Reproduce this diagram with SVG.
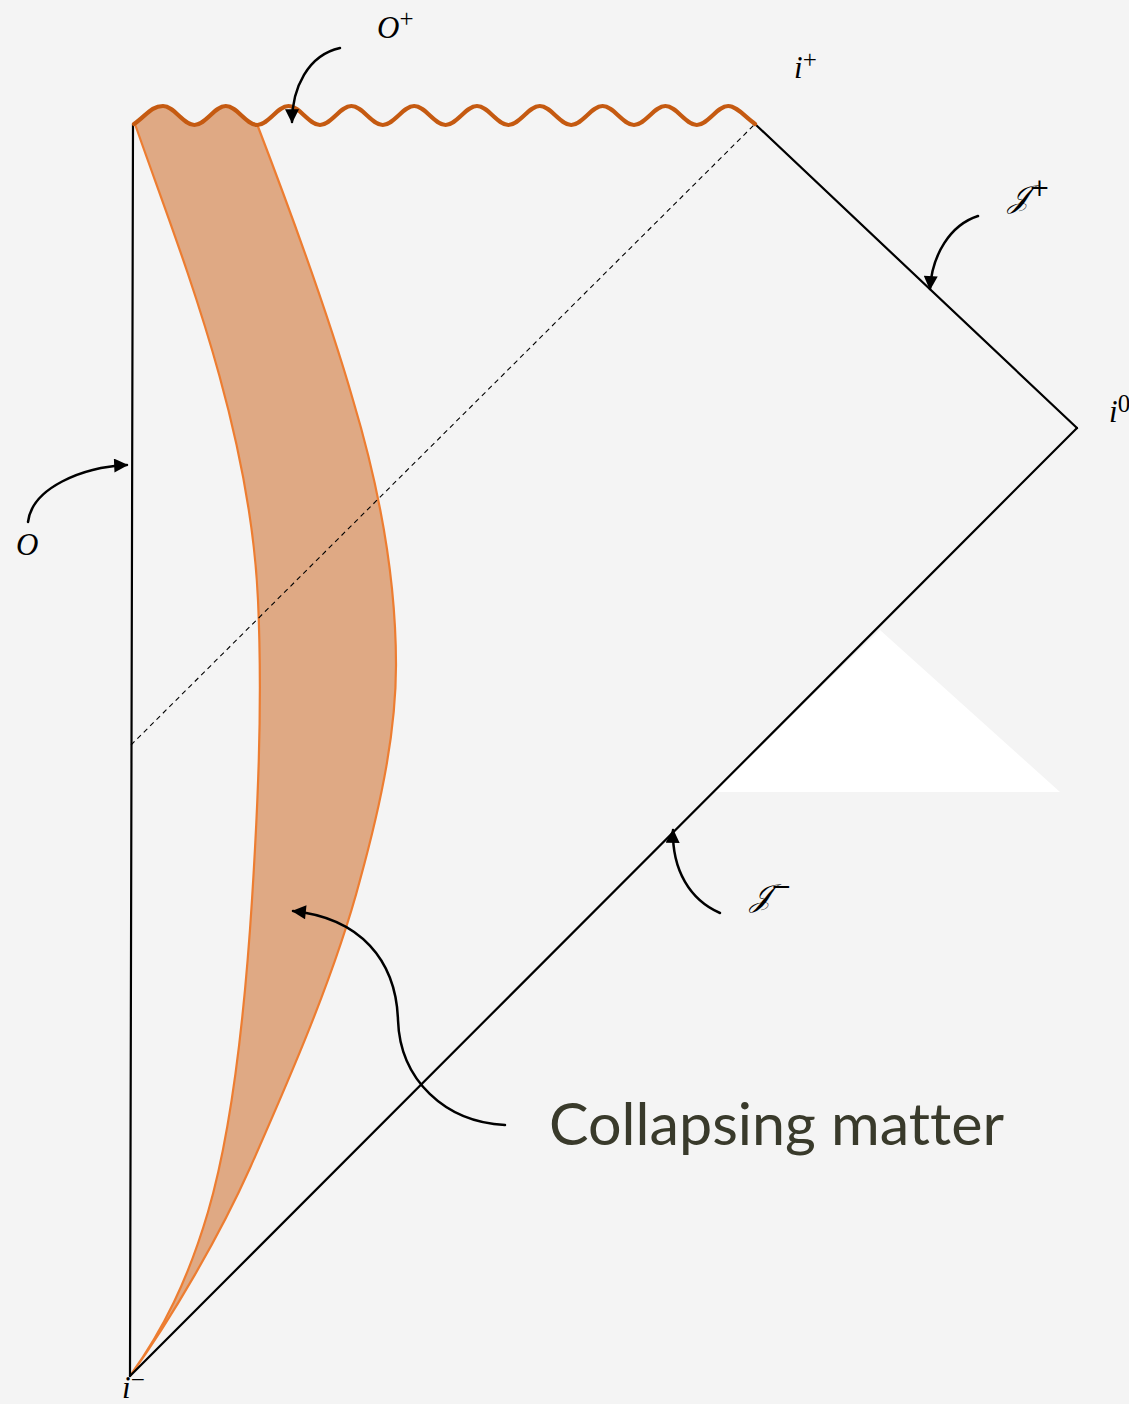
<svg xmlns="http://www.w3.org/2000/svg" width="1129" height="1404" viewBox="0 0 1129 1404">
<style>
.bg{fill:#f4f4f4}
.edge{fill:none;stroke:#000;stroke-width:2.2;stroke-linecap:round}
.dash{fill:none;stroke:#000;stroke-width:1.1;stroke-dasharray:5 4}
.arrow{fill:none;stroke:#000;stroke-width:2.5;stroke-linecap:round}
.lbl{font-family:"Liberation Serif",serif;font-style:italic;font-size:31px;fill:#000}
.sup{font-style:normal;font-size:25px}
.cal{font-family:"DejaVu Serif","Liberation Serif",serif;font-style:italic;font-size:31px;fill:#000}
.big{font-family:Lato,"Open Sans",sans-serif;font-size:58px;fill:#393a2b;font-variant-ligatures:none}
</style>
<defs>
<marker id="ah" viewBox="0 0 12 12" refX="11" refY="6" markerWidth="15" markerHeight="14" markerUnits="userSpaceOnUse" orient="auto">
<path d="M0,0 L12,6 L0,12 Z" fill="#000"/>
</marker>
</defs>
<rect class="bg" x="0" y="0" width="1129" height="1404"/>
<polygon points="880,630 1060,792 712,792" fill="#ffffff"/>

<g id="matter">
<path d="M135,124 C175,240 250,420 258,600 C263,710 257,820 252,900 C245,1010 232,1130 208,1212 C188,1280 163,1330 130,1376 C172,1318 220,1235 250,1168 C288,1082 335,975 360,880 C382,800 396,730 396,665 C396,580 380,490 353,400 C330,320 290,210 257,124 C245.9,125 237.1,106 225.8,106 C214.5,106 205.7,125 194.4,125 C183.1,125 174.3,106 163,106 C151,106 146,116 135,124 Z" fill="#dfa984" stroke="#ed7d31" stroke-width="2.2" stroke-linejoin="round"/>
</g>

<g id="connectors">
<line class="edge" x1="133" y1="124" x2="130" y2="1376"/>
<line class="edge" x1="130" y1="1376" x2="1077" y2="428"/>
<line class="edge" x1="1077" y1="428" x2="755" y2="124"/>
<line class="dash" x1="131" y1="745" x2="755" y2="124"/>
<path d="M134,124 C146,116 151,106 163,106 c11.3,0 20.1,19 31.4,19 c11.3,0 20.1,-19 31.4,-19 c11.3,0 20.1,19 31.4,19 c11.3,0 20.1,-19 31.4,-19 c11.3,0 20.1,19 31.4,19 c11.3,0 20.1,-19 31.4,-19 c11.3,0 20.1,19 31.4,19 c11.3,0 20.1,-19 31.4,-19 c11.3,0 20.1,19 31.4,19 c11.3,0 20.1,-19 31.4,-19 c11.3,0 20.1,19 31.4,19 c11.3,0 20.1,-19 31.4,-19 c11.3,0 20.1,19 31.4,19 c11.3,0 20.1,-19 31.4,-19 c11.3,0 20.1,19 31.4,19 c11.3,0 20.1,-19 31.4,-19 c11.3,0 20.1,19 31.4,19 c11.3,0 20.1,-19 31.4,-19 c8,0 16,10 26.8,18" fill="none" stroke="#c55a11" stroke-width="4.2" stroke-linecap="round"/>
<path class="arrow" d="M340,48 C308,55 292,88 292,122" marker-end="url(#ah)"/>
<path class="arrow" d="M978,216 C950,225 932,255 930,289" marker-end="url(#ah)"/>
<path class="arrow" d="M28,522 C32,488 82,467 127,465" marker-end="url(#ah)"/>
<path class="arrow" d="M720,913 C690,900 672,870 673,830" marker-end="url(#ah)"/>
<path class="arrow" d="M505,1125 C445,1122 400,1080 398,1020 C396,960 360,918 293,911" marker-end="url(#ah)"/>
</g>

<g id="label-Oplus"><text class="lbl" x="377" y="38">O<tspan class="sup" dy="-11">+</tspan></text></g>
<g id="label-iplus"><text class="lbl" x="794" y="78">i<tspan class="sup" dy="-10">+</tspan></text></g>
<g id="label-Jplus"><text class="cal" x="1008" y="207">𝒥<tspan class="sup" dy="-11">+</tspan></text></g>
<g id="label-i0"><text class="lbl" x="1109" y="422">i<tspan class="sup" dy="-10">0</tspan></text></g>
<g id="label-O"><text class="lbl" x="16" y="555">O</text></g>
<g id="label-Jminus"><text class="cal" x="750" y="906">𝒥<tspan class="sup" dy="-11">−</tspan></text></g>
<g id="label-iminus"><text class="lbl" x="122" y="1398">i<tspan class="sup" dy="-10">−</tspan></text></g>
<g id="label-collapsing"><text class="big" x="549" y="1145" textLength="455" lengthAdjust="spacingAndGlyphs">Collapsing matter</text></g>
</svg>
